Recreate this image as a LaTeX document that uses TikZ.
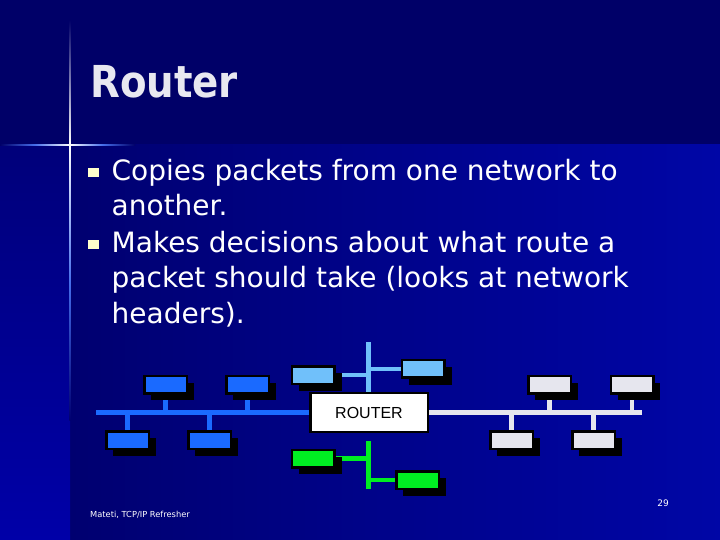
\documentclass[tikz,border=0pt]{standalone}
\usepackage{fontspec}
\setmainfont{DejaVu Sans}
\newfontfamily\titlefont{DejaVu Sans}[FakeStretch=0.88]
\newfontfamily\arialfont{Liberation Sans}
\usetikzlibrary{shadows}
\pgfdeclarelayer{back}
\pgfdeclarelayer{bg}
\pgfsetlayers{back,bg,main}
\definecolor{navytop}{RGB}{0,0,104}
\definecolor{navyleft}{RGB}{0,0,112}
\definecolor{navyright}{RGB}{0,6,166}
\definecolor{stripbot}{RGB}{0,0,168}
\definecolor{stripTop}{RGB}{0,0,122}
\definecolor{netblue}{RGB}{26,106,255}
\definecolor{netlight}{RGB}{112,192,250}
\definecolor{netgreen}{RGB}{0,238,34}
\definecolor{netgrey}{RGB}{230,230,238}
\definecolor{titlegrey}{RGB}{232,232,240}
\definecolor{bulletyellow}{RGB}{255,255,204}
\definecolor{glowblue}{RGB}{70,110,235}
\tikzset{
  host/.style={rectangle, draw=black, line width=2.5pt, fill=#1,
    minimum width=42.5pt, minimum height=17.5pt, inner sep=0pt,
    drop shadow={opacity=1, fill=black, shadow xshift=7pt, shadow yshift=-7pt}},
  wire/.style={line width=4.5pt, color=#1},
  bodytext/.style={anchor=base west, inner sep=0pt, text=white, font=\fontsize{28}{34}\selectfont},
  bulletsq/.style={rectangle, fill=bulletyellow, minimum width=10.5pt, minimum height=9.5pt, inner sep=0pt}
}
\begin{document}
\begin{tikzpicture}[x=1pt,y=-1pt]
\useasboundingbox (0,0) rectangle (720,540);
\begin{pgfonlayer}{back}
% background
\fill[navytop] (0,0) rectangle (720,540);
\shade[left color=navyleft, right color=navyright] (70,145) rectangle (720,540);
\shade[top color=stripTop, bottom color=stripbot] (0,145) rectangle (70,540);
% cross
\shade[top color=navytop, bottom color=white] (69.3,20) rectangle (70.8,145);
\shade[top color=white, bottom color=navyleft, middle color=glowblue] (69.3,145) rectangle (70.8,420);
\shade[left color=navytop, right color=white, middle color=glowblue] (0,144.2) rectangle (70,145.8);
\shade[left color=white, right color=navytop, middle color=glowblue] (70,144.2) rectangle (135,145.8);
\end{pgfonlayer}
% title
\node[anchor=base west, inner sep=0pt, text=titlegrey, font=\titlefont\bfseries\fontsize{44}{50}\selectfont] (title) at (90,98) {Router};
% bullets
\node[bulletsq] (b1) at (93.5,172.5) {};
\node[bulletsq] (b2) at (93.5,244.5) {};
\node[bodytext] (t1) at (111.5,180.5) {Copies packets from one network to};
\node[bodytext] (t2) at (111.5,215) {another.};
\node[bodytext] (t3) at (111.5,252) {Makes decisions about what route a};
\node[bodytext] (t4) at (111.5,287) {packet should take (looks at network};
\node[bodytext] (t5) at (111.5,323) {headers).};
% router
\node[rectangle, draw=black, fill=white, line width=2.5pt, minimum width=117.5pt, minimum height=39pt, inner sep=0pt, font=\arialfont\fontsize{16}{18}\selectfont] (router) at (369,412.5) {ROUTER};
% hosts
\node[host=netblue] (bu1) at (165.5,384.5) {};
\node[host=netblue] (bu2) at (247.5,384.5) {};
\node[host=netblue] (bl1) at (127.5,440) {};
\node[host=netblue] (bl2) at (209.5,440) {};
\node[host=netlight] (lb1) at (313.3,375.2) {};
\node[host=netlight] (lb2) at (423.3,368.8) {};
\node[host=netgreen] (g1) at (313.3,458.5) {};
\node[host=netgreen] (g2) at (417.7,480.2) {};
\node[host=netgrey] (gu1) at (549.5,384.5) {};
\node[host=netgrey] (gu2) at (632,384.5) {};
\node[host=netgrey] (gl1) at (511.5,440) {};
\node[host=netgrey] (gl2) at (593.5,440) {};
\coordinate (lbusend) at (96,412.5);
\coordinate (rbusend) at (642,412.5);
\coordinate (lbtop) at (368.5,342);
\coordinate (gtop) at (368.5,441);
\coordinate (gbot) at (368.5,488.5);
\begin{pgfonlayer}{bg}
\draw[wire=netblue] (router.west) -- (lbusend);
\draw[wire=netblue] (bu1.center) -- (bu1 |- router);
\draw[wire=netblue] (bu2.center) -- (bu2 |- router);
\draw[wire=netblue] (bl1.center) -- (bl1 |- router);
\draw[wire=netblue] (bl2.center) -- (bl2 |- router);
\draw[wire=netgrey] (router.east) -- (rbusend);
\draw[wire=netgrey] (gu1.center) -- (gu1 |- router);
\draw[wire=netgrey] (gu2.center) -- (gu2 |- router);
\draw[wire=netgrey] (gl1.center) -- (gl1 |- router);
\draw[wire=netgrey] (gl2.center) -- (gl2 |- router);
\draw[wire=netlight] (lbtop) -- (lbtop |- router.center);
\draw[wire=netlight] (lb1.center) -- (lb1 -| lbtop);
\draw[wire=netlight] (lb2.center) -- (lb2 -| lbtop);
\draw[wire=netgreen] (gtop) -- (gbot);
\draw[wire=netgreen] (g1.center) -- (g1 -| gtop);
\draw[wire=netgreen] (g2.center) -- (g2 -| gtop);
\end{pgfonlayer}
% footer
\node[anchor=base west, inner sep=0pt, text=white, font=\fontsize{8.3}{10}\selectfont] (footer) at (90,517.5) {Mateti, TCP/IP Refresher};
\node[anchor=base, inner sep=0pt, text=white, font=\fontsize{9}{10}\selectfont] (pageno) at (663,506) {29};
\end{tikzpicture}
\end{document}
